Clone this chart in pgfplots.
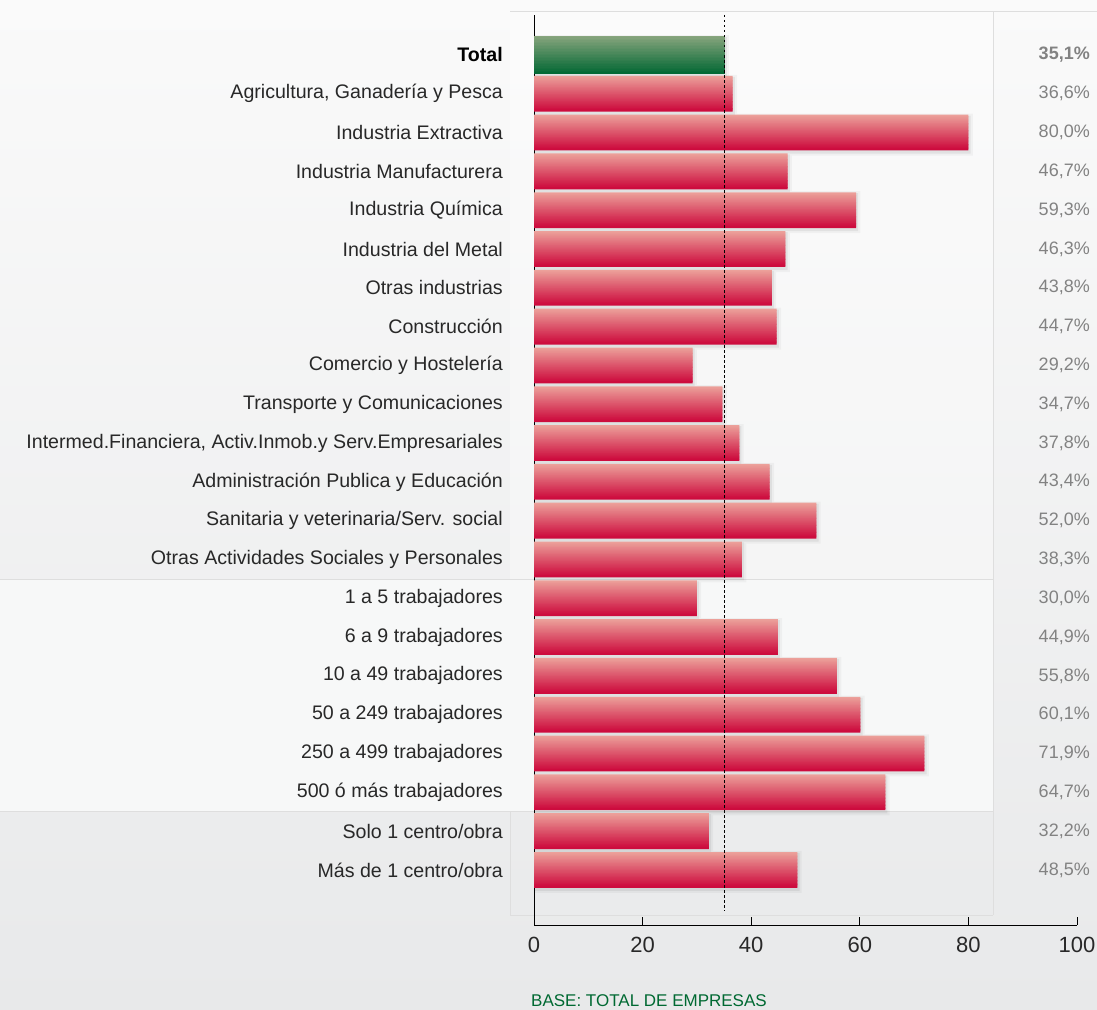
\documentclass[border=0pt]{standalone}
\usepackage{pgfplots}
\pgfplotsset{compat=1.18}
\usepackage{pgfplotstable}
\usepackage{fontspec}
\setmainfont{Liberation Sans}
\definecolor{labc}{RGB}{40,40,40}
\definecolor{valc}{RGB}{130,130,130}
\definecolor{pinktop}{RGB}{236,160,154}
\definecolor{redbot}{RGB}{204,6,58}
\definecolor{greentop}{RGB}{135,165,125}
\definecolor{greenbot}{RGB}{0,102,50}
\definecolor{bgtop}{RGB}{250,250,250}
\definecolor{bgbot}{RGB}{232,233,234}
\definecolor{sectwo}{RGB}{247,248,248}
\definecolor{linec}{RGB}{222,222,222}
\definecolor{basec}{RGB}{0,105,50}

\pgfplotstableread{
y v
0 35.1
}\totaltab
\pgfplotstableread{
y v
-1 36.6
-2 80.0
-3 46.7
-4 59.3
-5 46.3
-6 43.8
-7 44.7
-8 29.2
-9 34.7
-10 37.8
-11 43.4
-12 52.0
-13 38.3
-14 30.0
-15 44.9
-16 55.8
-17 60.1
-18 71.9
-19 64.7
-20 32.2
-21 48.5
}\resttab

\begin{document}
\begin{tikzpicture}
\useasboundingbox (0,0) rectangle (1097pt,-1009pt);
\shade[top color=bgtop, bottom color=bgbot] (0,0) rectangle (1097pt,-1009pt);
\fill[white, opacity=0.35] (510pt,-11pt) rectangle (993pt,-579pt);
\fill[sectwo] (0,-579pt) rectangle (993pt,-811pt);
\draw[linec, line width=1pt] (510pt,-11pt) -- (1097pt,-11pt);
\draw[linec, line width=1pt] (993pt,-11pt) -- (993pt,-915pt);
\draw[linec, line width=1pt] (0,-579pt) -- (993pt,-579pt);
\draw[linec, line width=1pt] (0,-811pt) -- (993pt,-811pt);
\draw[linec, line width=1pt] (510pt,-811pt) -- (510pt,-915pt) -- (993pt,-915pt);

\begin{axis}[
  at={(534pt,-925pt)}, anchor=south west,
  scale only axis, width=543pt, height=910pt,
  xmin=0, xmax=100, ymin=-22.42, ymax=1.03,
  axis x line*=bottom, axis y line*=left,
  axis line style={black, line width=1pt, -},
  xtick={0,20,...,100}, tick align=inside, major tick length=8pt,
  xtick style={black, line width=1pt},
  ytick={-21,...,0}, ytick style={draw=none},
  yticklabels={Más de 1 centro/obra, Solo 1 centro/obra, 500 ó más trabajadores, 250 a 499 trabajadores, 50 a 249 trabajadores, 10 a 49 trabajadores, 6 a 9 trabajadores, 1 a 5 trabajadores, Otras Actividades Sociales y Personales, Sanitaria y veterinaria/Serv. social, Administración Publica y Educación, {Intermed.Financiera, Activ.Inmob.y Serv.Empresariales}, Transporte y Comunicaciones, Comercio y Hostelería, Construcción, Otras industrias, Industria del Metal, Industria Química, Industria Manufacturera, Industria Extractiva, {Agricultura, Ganadería y Pesca}, {\color{black}\bfseries Total}},
  yticklabel style={font=\fontsize{19.6}{21}\selectfont, text=labc, anchor=east, inner sep=0pt, xshift=-31pt},
  xticklabel style={font=\fontsize{22}{24}\selectfont, text=labc, yshift=-9pt},
  /pgf/number format/assume math mode=true,
  clip=false,
]
% soft shadows
\addplot[xbar, bar shift=-2pt, bar width=42pt, draw=none, fill=black, fill opacity=0.035] table[x expr=\thisrow{v}+0.8, y=y] {\resttab};
\addplot[xbar, bar shift=-2pt, bar width=38pt, draw=none, fill=black, fill opacity=0.06] table[x expr=\thisrow{v}+0.4, y=y] {\resttab};
\addplot[xbar, bar shift=-2pt, bar width=44pt, draw=none, fill=black, fill opacity=0.035] table[x expr=\thisrow{v}+0.8, y=y] {\totaltab};
\addplot[xbar, bar shift=-2pt, bar width=40pt, draw=none, fill=black, fill opacity=0.06] table[x expr=\thisrow{v}+0.4, y=y] {\totaltab};
% bars: vertical gradient drawn as 25 thin stripes per bar (top pink -> bottom red)
\pgfplotsinvokeforeach{0,4,...,96}{
\addplot[xbar, bar shift={(16.8-0.35*#1)*1pt}, bar width=2.2pt, draw=none, fill=redbot!#1!pinktop] table[x=v, y=y] {\resttab};
\addplot[xbar, bar shift={(18.24-0.38*#1)*1pt}, bar width=2.3pt, draw=none, fill=greenbot!#1!greentop] table[x=v, y=y] {\totaltab};
}
% reference line at the total
\addplot[black, line width=0.8pt, dash pattern=on 2.5pt off 2.5pt] coordinates {(35.1,1.03) (35.1,-22.04)};
% value labels
\addplot[draw=none, mark=none, point meta=\thisrow{v},
  nodes near coords={\pgfmathprintnumber[fixed, fixed zerofill, precision=1, use comma]{\pgfplotspointmeta}\%},
  every node near coord/.style={anchor=east, inner sep=0pt, font=\fontsize{18}{19}\selectfont\bfseries, text=valc}]
  table[x expr=102.39, y=y] {\totaltab};
\addplot[draw=none, mark=none, point meta=\thisrow{v},
  nodes near coords={\pgfmathprintnumber[fixed, fixed zerofill, precision=1, use comma]{\pgfplotspointmeta}\%},
  every node near coord/.style={anchor=east, inner sep=0pt, font=\fontsize{18}{19}\selectfont, text=valc}]
  table[x expr=102.39, y=y] {\resttab};
\end{axis}
\node[anchor=base west, inner sep=0pt, text=basec, font=\fontsize{17}{18}\selectfont] at (531pt,-1006pt) {BASE: TOTAL DE EMPRESAS};
\end{tikzpicture}
\end{document}
